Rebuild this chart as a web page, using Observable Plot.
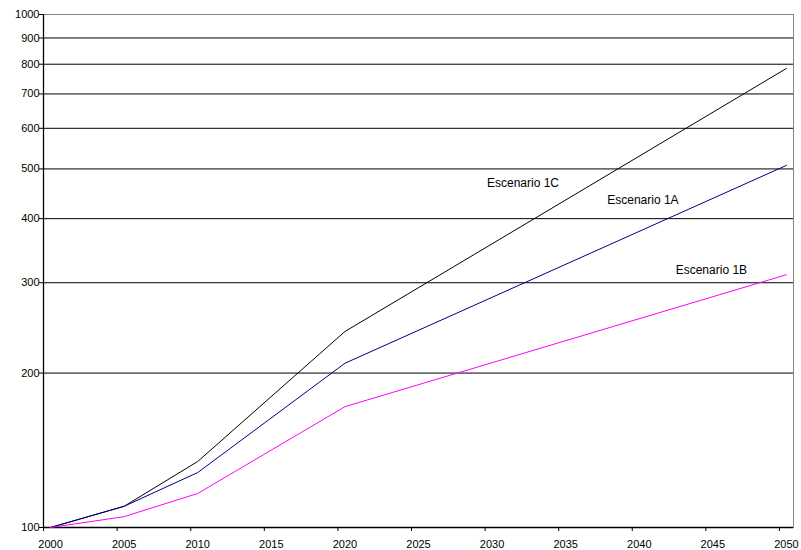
<!DOCTYPE html>
<html>
<head>
<meta charset="utf-8">
<script src="https://cdn.jsdelivr.net/npm/d3@7"></script>
<script src="https://cdn.jsdelivr.net/npm/@observablehq/plot@0.6"></script>
<style>
  html, body { margin: 0; padding: 0; background: #fff; }
  #chart { width: 801px; height: 550px; }
</style>
</head>
<body>
<div id="chart"></div>
<script>
const years = [2000, 2005, 2010, 2020, 2050];
const escenario1C = [100, 110, 134.5, 241, 785];
const escenario1A = [100, 110, 128, 209, 508];
const escenario1B = [100, 105, 116.5, 172, 311];
const seriesNames = ["Escenario 1C", "Escenario 1A", "Escenario 1B"];
const seriesColors = ["#000000", "#000080", "#ff00ff"];
const xTicks = [2000, 2005, 2010, 2015, 2020, 2025, 2030, 2035, 2040, 2045, 2050];
const yTicks = [100, 200, 300, 400, 500, 600, 700, 800, 900, 1000];
const labelYears = [2032.1, 2040.25, 2044.9];
const labelValues = [470, 434, 317];

const allSeries = [escenario1C, escenario1A, escenario1B];
const data = [];
allSeries.forEach((vals, i) => {
  vals.forEach((v, j) => data.push({series: seriesNames[i], year: years[j], value: v}));
});
const labels = seriesNames.map((s, i) => ({series: s, year: labelYears[i], value: labelValues[i]}));

const chart = Plot.plot({
  width: 801,
  height: 550,
  marginLeft: 43,
  marginRight: 8,
  marginTop: 14,
  marginBottom: 23,
  style: {fontFamily: "'Liberation Sans', Arial, sans-serif", fontSize: "11px", color: "#000", background: "#fff"},
  x: {domain: [1999.52, 2050.48], label: null},
  y: {type: "log", domain: [100, 1000], label: null},
  color: {domain: seriesNames, range: seriesColors},
  marks: [
    Plot.ruleY(yTicks.slice(1), {stroke: "#000", strokeWidth: 1}),
    Plot.frame({stroke: "#888", strokeWidth: 1}),
    Plot.ruleX([1999.52], {stroke: "#000", strokeWidth: 1.3}),
    Plot.ruleY([100], {stroke: "#000", strokeWidth: 1.3}),
    Plot.axisY({ticks: yTicks, tickSize: 4, tickPadding: 0, tickFormat: d => String(d), fontSize: 11, stroke: "#000", label: null}),
    Plot.axisX({ticks: xTicks, tickSize: 4, dx: -7, text: null, label: null, stroke: "#000"}),
    Plot.axisX({ticks: xTicks, tickSize: 0, tickPadding: 13, tickFormat: d => String(d), fontSize: 11, label: null}),
    Plot.line(data, {x: "year", y: "value", z: "series", stroke: "series", strokeWidth: 1}),
    Plot.text(labels, {x: "year", y: "value", text: "series", fontSize: 12, fill: "#000"})
  ]
});
document.getElementById("chart").appendChild(chart);
</script>
</body>
</html>
